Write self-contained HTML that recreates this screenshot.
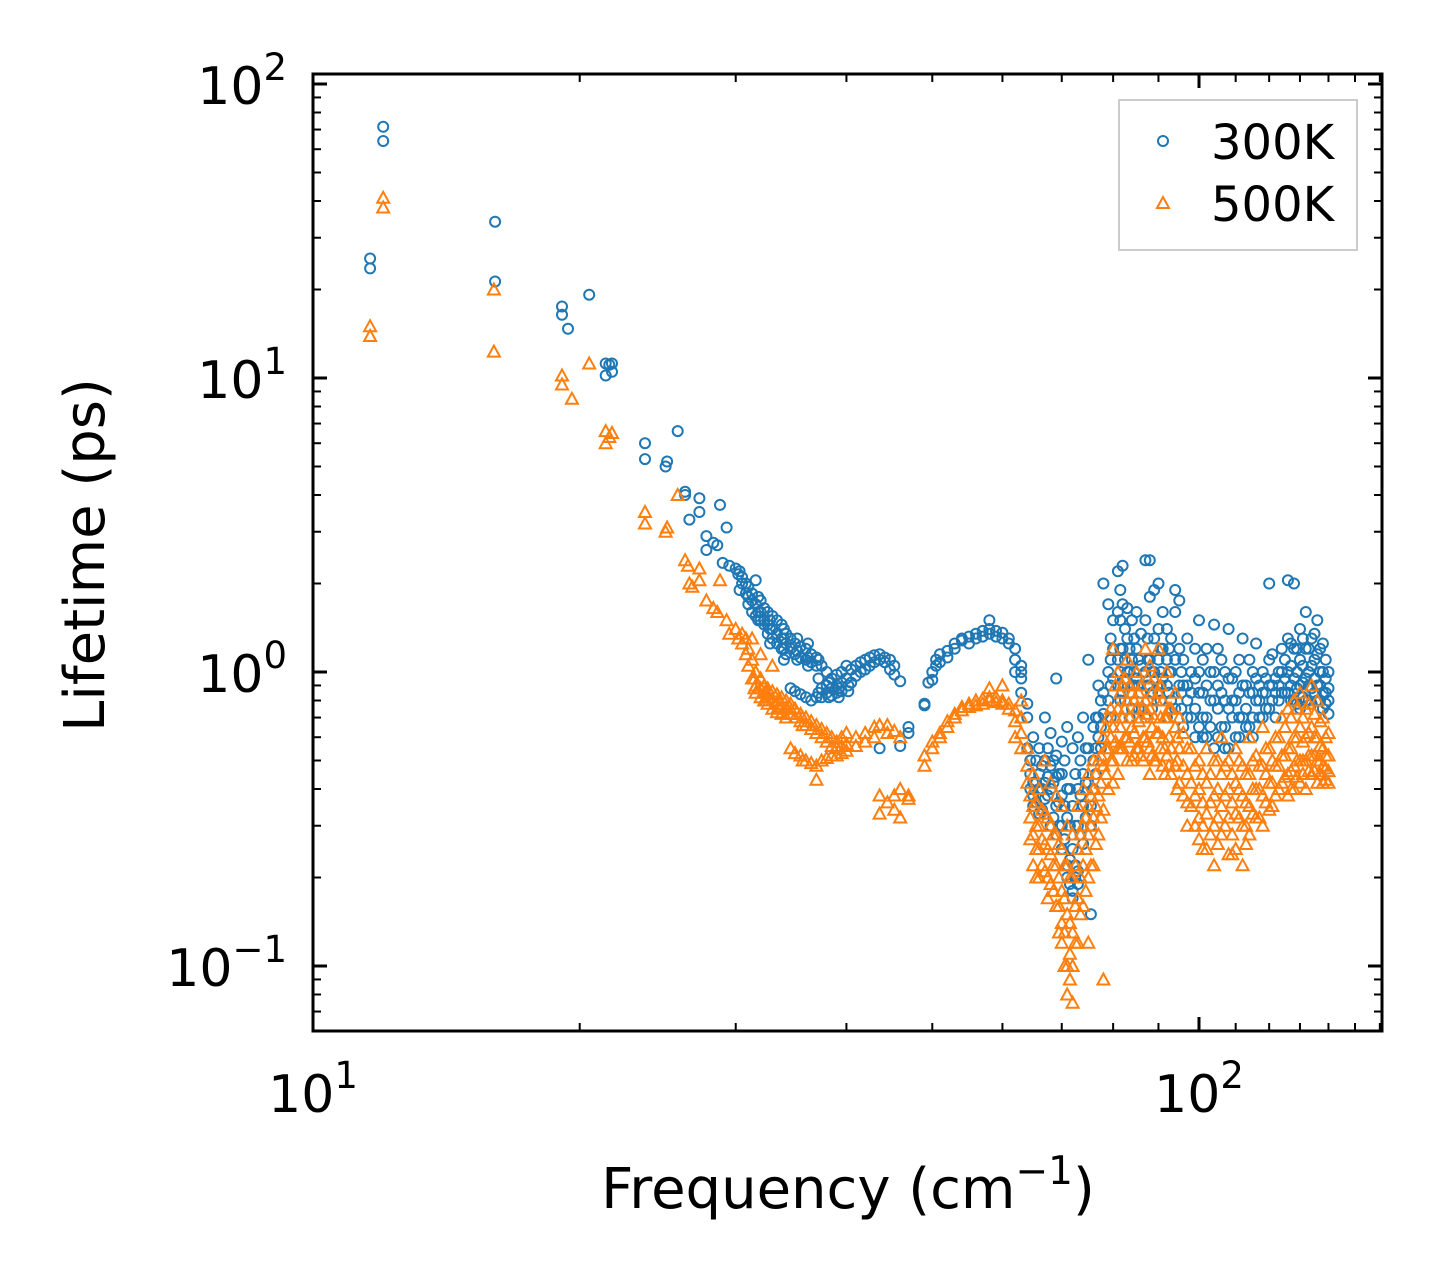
<!DOCTYPE html>
<html><head><meta charset="utf-8"><style>
html,body{margin:0;padding:0;background:#fff}
svg{display:block;font-family:"DejaVu Sans","Liberation Sans",sans-serif}
</style></head><body>
<svg id="chart" width="1442" height="1281" viewBox="0 0 1442 1281" xmlns="http://www.w3.org/2000/svg">
<rect width="1442" height="1281" fill="#fff"/>
<g id="marks300"></g>
<g id="marks500"></g>
<g id="ticks"></g>
<rect x="313" y="74" width="1069" height="957" fill="none" stroke="#000" stroke-width="3"/>
<g font-size="52" text-anchor="middle">
<text x="313" y="1112">10<tspan font-size="37" dy="-24">1</tspan></text>
<text x="1199" y="1112">10<tspan font-size="37" dy="-24">2</tspan></text>
</g>
<g font-size="52" text-anchor="end">
<text x="287" y="104">10<tspan font-size="37" dy="-24">2</tspan></text>
<text x="287" y="398">10<tspan font-size="37" dy="-24">1</tspan></text>
<text x="287" y="692">10<tspan font-size="37" dy="-24">0</tspan></text>
<text x="287" y="986">10<tspan font-size="37" dy="-24">−1</tspan></text>
</g>
<text x="848" y="1208" font-size="56" text-anchor="middle">Frequency (cm<tspan font-size="39" dy="-24">−1</tspan><tspan dy="24">)</tspan></text>
<text transform="translate(104,555) rotate(-90)" font-size="56" text-anchor="middle">Lifetime (ps)</text>
<g>
<rect x="1119" y="100" width="238" height="150" fill="#fff" stroke="#ccc" stroke-width="2"/>
<circle cx="1163" cy="141" r="5" fill="none" stroke="#1f77b4" stroke-width="2"/>
<text x="1211" y="159" font-size="48">300K</text>
<path d="M1163,197 L1169,208 L1157,208 Z" fill="none" stroke="#ff7f0e" stroke-width="2"/>
<text x="1211" y="221" font-size="48">500K</text>
</g>
</svg>
<script>
const freq300=[11.6,12.0,16.05,19.1,19.4,20.5,21.4,21.6,21.75,23.7,25.0,25.1,25.8,26.3,26.6,27.3,27.8,28.3,28.6,28.8,29.0,29.3,29.5,30.0,30.2,
30.5,30.8,31,31.3,31.6,32,32.3,32.6,33,33.4,33.8,34.2,34.6,35,35.5,36,36.5,37,
37.5,38,38.5,39,39.5,40,40.5,41,41.5,42,42.5,43,43.6,44.2,44.8,45.3,46,47,
49,49.5,50,50.5,51,52,53,54,55,56,57,58,59,60,61,62,63,64,
64.5,65,66,67,68,69,70,71,72,73,74,75,75.5,76,77,78,79,80,
81,82,83,84,85,86,87,88,89,90,91,92,93,94,95,96,98,100,
102,104,106,108,110,112,114,116,118,120,122,124,126,128,130,132,134,136,138,140];
const life300=[[25.5,23.6],[71.5,64],[34,21.3],[17.5,16.4],[14.7],[19.2],[11.2,10.2],[11.1],[10.5,11.2],[6.0,5.3],[5.0],[5.2],[6.6],[4.1,4.0],[3.3],[3.9,3.5],[2.9,2.6],[2.75],[2.7],[3.7],[2.35],[3.1],[2.3],[2.25],[2.15],
[2.1,2.0],[2.0,1.85],[1.95,1.8,1.7],[1.85,1.75,1.6],[2.05,1.7,1.55],[1.75,1.6,1.5],[1.65,1.5,1.45],[1.6,1.45,1.35],[1.55,1.4,1.3],[1.5,1.35,1.25],[1.45,1.3,1.2],[1.35,1.25,1.15],[1.3,1.2,0.88],[1.25,1.15,0.86],[1.22,1.12,0.84],[1.2,1.1,0.82],[1.15,1.08,0.8],[1.12,1.05,0.82],
[1.05,0.88,0.82],[1.0,0.9,0.85],[0.95,0.88,0.83],[0.98,0.9,0.85],[1.0,0.92,0.86],[1.05,0.95],[1.02,0.92],[1.05,0.97],[1.08,1.0],[1.1,1.02],[1.12,1.05],[1.14,1.08],[1.15,1.1,0.55],[1.12,1.08],[1.1,1.02],[1.05,0.98],[0.93,0.56],[0.62,0.65],
[0.78,0.77],[0.92],[0.94,1.0],[1.05,1.1],[1.08,1.15],[1.18,1.12],[1.25,1.2],[1.3,1.28],[1.32,1.25],[1.35,1.3],[1.38,1.32],[1.4,1.35,1.5],[1.38,1.32],[1.36,1.3],[1.3,1.25],[1.2,1.1,1.0],[1.0,0.95,0.85,1.05],[0.78,0.7,0.55],
[0.5,0.45,0.4],[0.6,0.42,0.38,0.35],[0.55,0.45,0.4,0.33],[0.7,0.5,0.42,0.37],[0.62,0.48,0.4,0.3],[0.95,0.52,0.44,0.35,0.28],[0.58,0.45,0.38,0.3,0.25],[0.65,0.4,0.32,0.22,0.2],[0.55,0.35,0.25,0.18,0.17],[0.6,0.4,0.3,0.21,0.19],[0.7,0.45,0.35,0.26],[1.1,0.55,0.42],[0.35,0.3,0.15],[0.65,0.5,0.4],[0.9,0.7,0.6],[2.0,0.85,0.72],[1.7,1.0,0.8],[1.5,1.2,0.95],
[2.2,1.6,1.1,0.9],[2.3,1.7,1.2,0.85],[1.65,1.3,1.0],[1.5,1.1,0.9,0.75],[1.6,1.2,0.95],[1.35,1.05,0.85],[2.4,1.5,1.0,0.7],[2.4,1.8,1.1,0.9],[1.9,1.3,1.0],[2.0,1.4,1.1,0.85],[1.6,1.2,0.95],[1.4,1.1,0.9,0.7],[1.3,1.0,0.8],[1.9,1.6,1.1,0.75],[1.75,1.2,0.9],[1.1,0.9,0.65],[1.0,0.85,0.7],[1.5,1.0,0.85,0.65],
[1.2,0.9,0.7,0.6],[1.45,1.0,0.8,0.55],[1.1,0.85,0.65],[1.4,0.95,0.75,0.55],[1.0,0.8,0.6],[1.3,0.9,0.7],[1.1,0.85,0.65],[1.25,0.95,0.8],[1.0,0.85,0.7],[2.0,1.1,0.9,0.75],[0.95,0.85,0.7],[1.2,1.0,0.85],[2.05,1.3,1.0,0.85],[2.0,1.2,0.95,0.8],[1.4,1.1,0.9,0.75],[1.6,1.2,0.95,0.8],[1.3,1.05,0.88,0.78],[1.5,1.15,0.9,0.8],[1.25,1.0,0.85,0.75],[1.0,0.88,0.8,0.72]];
const freq300b=[30.3,31.8,32.8,34,35.2,36.2,37.2,38.2,39.2,40.2,65.5,66.5,67.5,68.5,69.5,70.5,71.5,72.5,73.5,74.5,76.5,77.5,79.5,81.5,82.5,83.5,84.5,85.5,87.5,88.5,90.5,92.5,95.5,97,99,101,103,105,107,109,111,113,115,117,119,121,123,125,127,129,131,133,135,137,139];
const life300b=[[2.2,1.9],[1.8,1.6,1.5],[1.5,1.4,1.25],[1.4,1.3,1.2,1.1],[1.3,1.18,1.1],[1.25,1.12,1.05],[1.1,0.95,0.85],[0.92,0.82],[0.88,0.82],[0.9,0.86],[0.5,0.42,0.36],[0.48,0.4,0.34],[0.55,0.44,0.38],[0.5,0.42,0.32],[0.45,0.36,0.3],[0.5,0.35,0.27],[0.4,0.3,0.23,0.19],[0.45,0.3,0.22,0.2],[0.5,0.38,0.28],[0.55,0.42,0.32],[0.7,0.55,0.45],[0.8,0.65,0.55],[1.3,1.1,0.9,0.7],[1.9,1.5,1.2,1.0,0.8],[1.4,1.1,0.95,0.8],[1.2,1.0,0.85,0.7],[1.3,1.0,0.9],[1.1,0.9,0.75],[1.3,1.1,0.9,0.8],[1.0,0.85,0.75],[1.2,1.0,0.9,0.8],[1.2,1.0,0.85],[1.0,0.85,0.75],[1.3,0.9,0.8,0.7],[1.2,0.95,0.75,0.6],[1.1,0.85,0.7,0.6],[1.0,0.8,0.65],[1.2,0.9,0.75,0.6],[1.0,0.8,0.65,0.55],[0.95,0.8,0.7],[1.1,0.85,0.7,0.6],[0.9,0.75,0.65],[1.0,0.85,0.7,0.6],[0.9,0.8,0.7],[0.95,0.85,0.75],[1.15,0.9,0.8],[1.0,0.9,0.8],[1.1,0.95,0.85],[1.25,1.05,0.9,0.8],[1.2,1.0,0.88,0.78],[1.3,1.05,0.92,0.82],[1.2,1.0,0.9,0.8],[1.35,1.1,0.95,0.85],[1.2,1.0,0.9,0.8],[1.1,0.95,0.85,0.78]];
const freq500=[11.6,12.0,16.0,19.1,19.6,20.5,21.4,21.6,21.75,23.7,25.0,25.1,25.8,26.3,26.5,26.6,26.8,27.3,27.8,28.3,28.6,28.8,29.3,29.5,30,30.2,
30.5,30.8,31,31.3,31.6,32,32.3,32.6,33,33.4,33.8,34.2,34.6,35,35.5,36,36.5,37,
37.5,38,38.5,39,39.5,40,41,42,43,43.6,44.5,45.3,46,47,
49,50,51,52,53,54,55,56,57,58,59,60,61,62,63,64,
64.5,65,66,67,68,69,70,71,72,73,74,75,76,77,78,79,80,
81,82,83,84,85,86,87,88,89,90,91,92,93,94,95,96,98,100,
102,104,106,108,110,112,114,116,118,120,122,124,126,128,130,132,134,136,138,140];
const life500=[[15.0,13.9],[41,38],[20,12.3],[9.5,10.2],[8.5],[11.2],[6.6,6.0],[6.3],[6.5],[3.5,3.2],[3.0],[3.1],[4.0],[2.4],[2.3],[2.0],[1.95],[2.25,2.05],[1.75],[1.65],[1.6],[2.05],[1.5],[1.35],[1.4],[1.3],
[1.35,1.25],[1.3,1.15],[1.2,1.05],[1.1,0.95,1.3],[1.0,0.9,0.85],[0.95,0.88,0.82,1.15],[0.9,0.85,0.8],[0.88,0.82,0.78],[0.86,0.8,0.75,1.05],[0.84,0.78,0.73],[0.82,0.76,0.72],[0.8,0.75,0.7],[0.78,0.72,0.55],[0.75,0.7,0.53],[0.72,0.68,0.52],[0.7,0.66,0.5],[0.68,0.64,0.49],[0.66,0.62,0.48,0.43],
[0.64,0.6,0.5],[0.62,0.58,0.51],[0.6,0.56,0.52],[0.58,0.55,0.52],[0.6,0.56,0.53],[0.62,0.57,0.54],[0.6,0.56],[0.62,0.58],[0.65,0.6],[0.66,0.38,0.33],[0.66,0.62,0.36],[0.63,0.34,0.38],[0.6,0.32,0.4],[0.38,0.37],
[0.48,0.52],[0.55,0.58],[0.62,0.6],[0.68,0.65],[0.72,0.7],[0.76,0.74],[0.78,0.76],[0.8,0.77],[0.81,0.78],[0.82,0.8,0.88],[0.82,0.79],[0.8,0.78,0.9],[0.78,0.75],[0.74,0.68,0.6],[0.7,0.62,0.55,0.8],[0.55,0.48,0.42],
[0.38,0.32,0.27],[0.35,0.28,0.22,0.45],[0.3,0.25,0.2,0.4],[0.33,0.26,0.21,0.5],[0.3,0.24,0.19,0.42],[0.28,0.22,0.16,0.38],[0.25,0.18,0.14,0.12,0.35],[0.22,0.15,0.1,0.08,0.3],[0.2,0.13,0.1,0.075,0.28],[0.25,0.17,0.12,0.35],[0.3,0.22,0.16,0.4],[0.35,0.28,0.2,0.12,0.45],[0.4,0.32,0.22,0.5],[0.5,0.38,0.28],[0.6,0.48,0.34,0.09],[0.7,0.55,0.4],[1.2,0.65,0.5,0.42],
[1.0,0.75,0.55,0.45],[0.9,0.7,0.55],[1.1,0.8,0.6,0.5],[0.85,0.65,0.5],[1.0,0.75,0.55],[0.9,0.7,0.52],[1.2,0.8,0.6],[1.05,0.75,0.55,0.45],[0.95,0.7,0.5],[1.2,0.85,0.62],[0.8,0.6,0.48],[1.0,0.7,0.52],[0.75,0.55,0.45],[0.85,0.65,0.48],[0.7,0.55,0.42],[0.62,0.48,0.38],[0.55,0.42,0.35],[0.5,0.4,0.32,0.27],
[0.55,0.42,0.33,0.25],[0.5,0.38,0.3,0.22],[0.6,0.45,0.35,0.28],[0.5,0.4,0.32,0.24],[0.55,0.42,0.33,0.25],[0.48,0.38,0.3,0.22],[0.6,0.45,0.35,0.28],[0.52,0.4,0.32],[0.65,0.48,0.38,0.3],[0.55,0.42,0.34],[0.6,0.48,0.38],[0.7,0.52,0.42],[0.75,0.55,0.45,0.38],[0.8,0.6,0.48,0.4],[0.85,0.65,0.5,0.42],[0.75,0.6,0.5,0.4],[0.9,0.65,0.52,0.45],[0.8,0.6,0.5,0.42],[0.7,0.55,0.48,0.42],[0.62,0.52,0.46,0.42]];
const freq500b=[31.5,32.5,33.5,34.5,35.7,65.5,66.5,67.5,68.5,69.5,70.5,71.5,72.5,73.5,74.5,75.5,76.5,77.5,78.5,79.5,80.5,81.5,82.5,83.5,84.5,85.5,86.5,87.5,88.5,89.5,90.5,91.5,92.5,94.5,97,99,101,103,105,107,109,111,113,115,117,119,121,123,125,127,129,131,133,135,137,139];
const life500b=[[0.95,0.88],[0.85,0.8],[0.8,0.76],[0.76,0.72],[0.7,0.66,0.5],[0.36,0.3,0.25,0.2],[0.34,0.27,0.22],[0.32,0.25,0.2,0.17],[0.28,0.22,0.18],[0.26,0.2,0.16,0.13],[0.22,0.17,0.13,0.1],[0.2,0.14,0.11,0.09],[0.22,0.16,0.12],[0.28,0.2,0.15],[0.32,0.25,0.18],[0.38,0.3,0.22],[0.45,0.35,0.26],[0.52,0.42,0.32],[0.65,0.55,0.45],[0.75,0.6,0.5],[0.9,0.7,0.58],[0.85,0.65,0.55],[0.95,0.75,0.6],[0.9,0.7,0.58],[0.8,0.62,0.52],[0.85,0.68,0.55],[0.75,0.6,0.5],[0.95,0.72,0.58],[0.85,0.65,0.52],[0.8,0.62,0.5],[0.9,0.7,0.55],[0.7,0.55,0.45],[0.75,0.6,0.48],[0.6,0.5,0.4],[0.55,0.45,0.36,0.3],[0.48,0.38,0.3],[0.45,0.36,0.3,0.25],[0.45,0.36,0.28],[0.5,0.4,0.32,0.26],[0.48,0.38,0.3],[0.45,0.36,0.28,0.24],[0.5,0.4,0.32],[0.45,0.36,0.3,0.26],[0.5,0.4,0.33],[0.48,0.4,0.32],[0.55,0.45,0.36],[0.5,0.42,0.35],[0.6,0.48,0.4],[0.65,0.52,0.44],[0.7,0.55,0.46,0.4],[0.75,0.6,0.5,0.44],[0.7,0.58,0.5,0.45],[0.78,0.62,0.52,0.46],[0.72,0.6,0.52,0.46],[0.68,0.56,0.5,0.45],[0.6,0.52,0.47,0.43]];
const xMajor=[10,100];
const xMinor=[20,30,40,50,60,70,80,90,110,120,130,140,150,160];
const yMajor=[0.1,1,10,100];
const yMinor=[0.07,0.08,0.09,0.2,0.3,0.4,0.5,0.6,0.7,0.8,0.9,2,3,4,5,6,7,8,9,20,30,40,50,60,70,80,90];

const X0=313,X1=1382,Y0=74,Y1=1031;
function xs(f){return 313+886*(Math.log10(f)-1);}
function ys(v){return 84+294*(2-Math.log10(v));}
const NS='http://www.w3.org/2000/svg';
const g3=document.getElementById('marks300'),g5=document.getElementById('marks500'),gt=document.getElementById('ticks');
function drawCircles(fr,lf){fr.forEach((f,i)=>{lf[i].forEach(v=>{
  const c=document.createElementNS(NS,'circle');
  c.setAttribute('cx',xs(f).toFixed(1));c.setAttribute('cy',ys(v).toFixed(1));c.setAttribute('r','5');
  c.setAttribute('fill','none');c.setAttribute('stroke','#1f77b4');c.setAttribute('stroke-width','2');
  
  
  g3.appendChild(c);});});}
function drawTris(fr,lf){fr.forEach((f,i)=>{lf[i].forEach(v=>{
  const x=xs(f),y=ys(v);
  const p=document.createElementNS(NS,'path');
  p.setAttribute('d',`M${x.toFixed(1)},${(y-6).toFixed(1)} L${(x+6).toFixed(1)},${(y+5).toFixed(1)} L${(x-6).toFixed(1)},${(y+5).toFixed(1)} Z`);
  p.setAttribute('fill','none');p.setAttribute('stroke','#ff7f0e');p.setAttribute('stroke-width','2');
  
  
  g5.appendChild(p);});});}
drawCircles(freq300,life300);drawCircles(freq300b,life300b);
drawTris(freq500,life500);drawTris(freq500b,life500b);
function line(x1,y1,x2,y2,w){
  const l=document.createElementNS(NS,'line');
  l.setAttribute('x1',x1);l.setAttribute('y1',y1);l.setAttribute('x2',x2);l.setAttribute('y2',y2);
  l.setAttribute('stroke','#000');l.setAttribute('stroke-width',w);
  
  
  gt.appendChild(l);}
xMajor.forEach(f=>{const x=xs(f);if(x<X0-1||x>X1+1)return;line(x,Y1,x,Y1-14,3);line(x,Y0,x,Y0+14,3);});
xMinor.forEach(f=>{const x=xs(f);if(x<X0||x>X1)return;line(x,Y1,x,Y1-8,2);line(x,Y0,x,Y0+8,2);});
yMajor.forEach(v=>{const y=ys(v);if(y<Y0||y>Y1)return;line(X0,y,X0+14,y,3);line(X1,y,X1-14,y,3);});
yMinor.forEach(v=>{const y=ys(v);if(y<Y0||y>Y1)return;line(X0,y,X0+8,y,2);line(X1,y,X1-8,y,2);});
</script>
</body></html>
